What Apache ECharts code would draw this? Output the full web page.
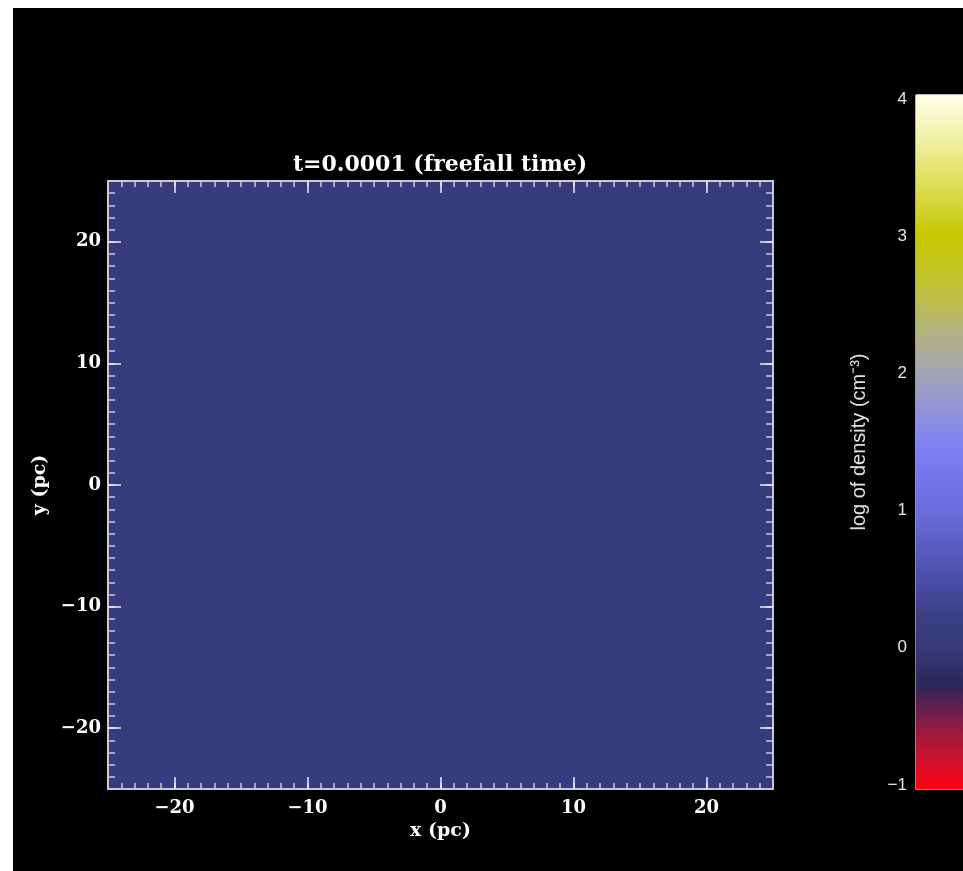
<!DOCTYPE html>
<html><head><meta charset="utf-8">
<script src="https://cdn.jsdelivr.net/npm/echarts@6/dist/echarts.min.js"></script>
<style>
html,body{margin:0;padding:0;background:#fff;width:963px;height:871px;overflow:hidden}
#chart{position:absolute;left:13px;top:8px;width:950px;height:863px;background:#000}
</style>
</head><body><div id="chart"></div>
<script>
const titleText = 't=0.0001 (freefall time)';
const xName = 'x (pc)';
const yName = 'y (pc)';
const colorbarName = 'log of density (cm\u207B\u00B3)';
const xRange = [-25, 25];
const yRange = [-25, 25];
const xMajorTicks = [-20, -10, 0, 10, 20];
const yMajorTicks = [-20, -10, 0, 10, 20];
const colorbarRange = [-1, 4];
const colorbarStep = 1;
const xCells = ['x'];
const yCells = ['y'];
const densityValues = [0.1];
// colormap from log density -1 to 4 in steps of 0.25
const colormap = ['#ff0010','#c81430','#801c48','#2c285a','#363878','#3c3e86','#4a4ca6','#5a5cc4',
  '#6a6cdc','#7476ec','#8082f4','#9294d8','#a4a4b4','#b0b088','#bcbc50','#c4c420',
  '#c8c800','#d8d840','#e6e678','#f4f4b4','#ffffea'];

const minus = v => String(v).replace('-', '\u2212');
const serif = 'DejaVu Serif';
const majorColor = '#ececf4';
const minorColor = '#c8cae2';
const lineColor = '#c8c8d8';

const heatData = [];
yCells.forEach((yc, j) => xCells.forEach((xc, i) => heatData.push([i, j, densityValues[j * xCells.length + i]])));

function majorAxis(dim, pos, range, ticks, showLabel, len) {
  return {
    type: 'value', gridIndex: 0, position: pos, min: range[0], max: range[1], z: 10,
    axisLine: {show: true, onZero: false, lineStyle: {color: lineColor, width: 2}},
    axisTick: {show: true, inside: true, length: len, customValues: ticks, lineStyle: {color: majorColor, width: 1.5}},
    axisLabel: {show: showLabel, customValues: ticks, formatter: minus, color: '#fff',
      fontFamily: serif, fontWeight: 'bold', fontSize: 18, margin: dim === 'x' ? 10 : 7},
    splitLine: {show: false}
  };
}
function minorAxis(pos, range, len) {
  return {
    type: 'value', gridIndex: 0, position: pos, min: range[0], max: range[1], interval: 1, z: 9,
    axisLine: {show: false, onZero: false},
    axisTick: {show: true, inside: true, length: len, lineStyle: {color: minorColor, width: 1.5}},
    axisLabel: {show: false}, splitLine: {show: false}
  };
}

const xBottom = majorAxis('x', 'bottom', xRange, xMajorTicks, true, 12);
xBottom.name = xName; xBottom.nameLocation = 'middle'; xBottom.nameGap = 31;
xBottom.nameTextStyle = {color: '#fff', fontFamily: serif, fontWeight: 'bold', fontSize: 19};
const yLeft = majorAxis('y', 'left', yRange, yMajorTicks, true, 13);
yLeft.name = yName; yLeft.nameLocation = 'middle'; yLeft.nameGap = 58;
yLeft.nameTextStyle = {color: '#fff', fontFamily: serif, fontWeight: 'bold', fontSize: 19};

const option = {
  animation: false,
  backgroundColor: '#000',
  graphic: [{type: 'text', x: 427, y: 157, style: {text: titleText, fill: '#fff',
    font: 'bold 22px "DejaVu Serif"', align: 'center', verticalAlign: 'middle'}}],
  grid: [
    {left: 95, top: 173, width: 665, height: 608},
    {left: 902, top: 91, width: 48, height: 686}
  ],
  xAxis: [
    {type: 'category', gridIndex: 0, data: xCells, show: false},
    xBottom,
    minorAxis('bottom', xRange, 6),
    majorAxis('x', 'top', xRange, xMajorTicks, false, 12),
    minorAxis('top', xRange, 6),
    {type: 'value', gridIndex: 1, show: false, min: 0, max: 1}
  ],
  yAxis: [
    {type: 'category', gridIndex: 0, data: yCells, show: false},
    yLeft,
    minorAxis('left', yRange, 7),
    majorAxis('y', 'right', yRange, yMajorTicks, false, 13),
    minorAxis('right', yRange, 7),
    {type: 'value', gridIndex: 1, position: 'left', min: colorbarRange[0], max: colorbarRange[1], interval: colorbarStep,
      axisLine: {show: false}, axisTick: {show: false}, splitLine: {show: false},
      axisLabel: {color: '#e6e6e6', fontFamily: 'Liberation Sans', fontSize: 17, margin: 8, formatter: minus},
      name: colorbarName, nameLocation: 'middle', nameGap: 46,
      nameTextStyle: {color: '#e0e0e0', fontFamily: 'Liberation Sans', fontSize: 20}}
  ],
  visualMap: {
    type: 'continuous', min: colorbarRange[0], max: colorbarRange[1], seriesIndex: 0, dimension: 2,
    orient: 'vertical', left: 902, top: 86, itemWidth: 60, itemHeight: 695, padding: 0,
    calculable: false, hoverLink: false, borderColor: '#8a8a8a', borderWidth: 1,
    inRange: {color: colormap}
  },
  series: [{
    type: 'heatmap', xAxisIndex: 0, yAxisIndex: 0, data: heatData,
    itemStyle: {borderWidth: 0}, emphasis: {disabled: true}
  }]
};
const chart = echarts.init(document.getElementById('chart'), null, {renderer: 'canvas'});
chart.setOption(option);
</script>
</body></html>
